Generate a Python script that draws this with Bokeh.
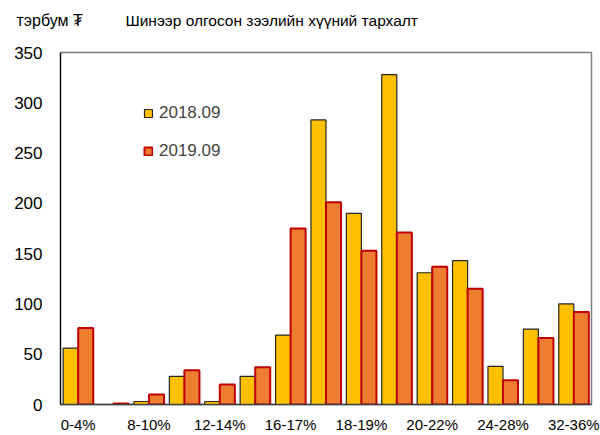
from bokeh.plotting import figure
from bokeh.layouts import column
from bokeh.models import Range1d, FixedTicker, Legend, LegendItem, Label, ColumnDataSource
from bokeh.transform import dodge
from bokeh.embed import file_html
from bokeh.resources import INLINE

# ---- data ----
categories = ["0-4%", "4-8%", "8-10%", "10-12%", "12-14%", "14-16%", "16-17%",
              "17-18%", "18-19%", "19-20%", "20-22%", "22-24%", "24-28%",
              "28-32%", "32-36%"]
values_2018 = [56, 0, 3, 28, 3, 28, 69, 283, 190, 328, 131, 143, 38, 75, 100]
values_2019 = [76, 1, 10, 34, 20, 37, 175, 201, 153, 171, 137, 115, 24, 66, 92]
series_names = ["2018.09", "2019.09"]
y_ticks = [0, 50, 100, 150, 200, 250, 300, 350]
unit_label = "тэрбум ₮"
chart_title = "Шинээр олгосон зээлийн хүүний тархалт"

FONT = "Liberation Sans"
HEADER_H = 36

# ---- header strip with the two header texts ----
header = figure(width=600, height=HEADER_H, output_backend="svg", toolbar_location=None,
                x_range=Range1d(0, 600), y_range=Range1d(0, HEADER_H),
                x_axis_type=None, y_axis_type=None,
                min_border_left=0, min_border_right=0, min_border_top=0, min_border_bottom=0)
header.frame_align = False
header.outline_line_color = None
header.xgrid.visible = False
header.ygrid.visible = False
header.add_layout(Label(x=16, y=16, x_units="screen", y_units="screen", text=unit_label,
                        text_font=FONT, text_font_size="16px", text_baseline="middle",
                        text_color="black"))
header.add_layout(Label(x=125, y=16, x_units="screen", y_units="screen", text=chart_title,
                        text_font=FONT, text_font_size="15.5px", text_baseline="middle",
                        text_color="black"))

# ---- main chart ----
idx = list(range(len(categories)))
source = ColumnDataSource(data=dict(x=idx, v2018=values_2018, v2019=values_2019))

p = figure(width=600, height=435 - HEADER_H, output_backend="svg", toolbar_location=None,
           x_range=Range1d(-0.5, len(categories) - 0.5), y_range=Range1d(0, 350),
           min_border_left=60, min_border_right=9, min_border_top=52 - HEADER_H,
           min_border_bottom=30)
p.frame_align = False

bar_w = 0.425
r1 = p.vbar(x=dodge("x", -bar_w / 2, range=p.x_range), top="v2018", width=bar_w, source=source,
            fill_color="#FFC000", line_color="#262626", line_width=1.2)
r2 = p.vbar(x=dodge("x", bar_w / 2, range=p.x_range), top="v2019", width=bar_w, source=source,
            fill_color="#ED7D31", line_color="#C00000", line_width=2)

p.xgrid.visible = False
p.ygrid.visible = False
p.outline_line_color = "#7f7f7f"
p.outline_line_width = 1.5
p.background_fill_color = "white"
p.border_fill_color = "white"

# x axis
p.xaxis.ticker = FixedTicker(ticks=idx[::2])
p.xaxis.major_label_overrides = {i: categories[i] for i in idx[::2]}
p.xaxis.major_tick_line_color = None
p.xaxis.minor_tick_line_color = None
p.xaxis.major_tick_out = 0
p.xaxis.major_tick_in = 0
p.xaxis.minor_tick_out = 0
p.xaxis.axis_line_color = "#404040"
p.xaxis.axis_line_width = 1.5
p.xaxis.major_label_text_font = FONT
p.xaxis.major_label_text_font_size = "15px"
p.xaxis.major_label_text_color = "black"
p.xaxis.major_label_standoff = 11

# y axis
p.yaxis.ticker = FixedTicker(ticks=y_ticks)
p.yaxis.major_tick_line_color = None
p.yaxis.minor_tick_line_color = None
p.yaxis.major_tick_out = 0
p.yaxis.major_tick_in = 0
p.yaxis.minor_tick_out = 0
p.yaxis.axis_line_color = "black"
p.yaxis.axis_line_width = 1.2
p.yaxis.major_label_text_font = FONT
p.yaxis.major_label_text_font_size = "17px"
p.yaxis.major_label_text_color = "black"
p.yaxis.major_label_standoff = 18

legend = Legend(items=[LegendItem(label=series_names[0], renderers=[r1]),
                       LegendItem(label=series_names[1], renderers=[r2])],
                location=(83, 243), glyph_width=10, glyph_height=10,
                label_text_font=FONT, label_text_font_size="17px", label_standoff=6,
                label_height=20, spacing=18, padding=0, margin=0,
                border_line_color=None, background_fill_alpha=0)
p.add_layout(legend)

layout = column(header, p, spacing=0)
open("out.html", "w").write(file_html(layout, INLINE))
